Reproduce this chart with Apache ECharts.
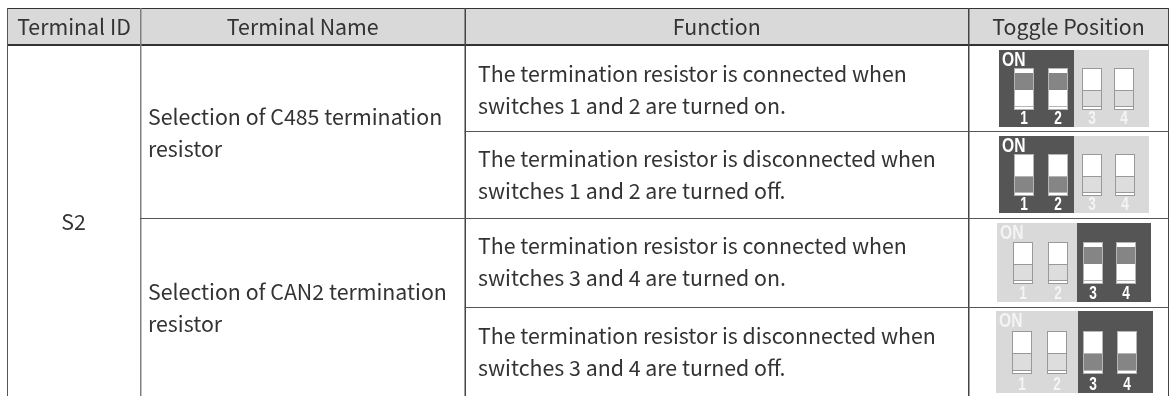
<!DOCTYPE html>
<html>
<head>
<meta charset="utf-8">
<style>
  html, body { margin: 0; padding: 0; background: #fff; }
  #chart { width: 1169px; height: 396px; }
</style>
<script src="https://cdn.jsdelivr.net/npm/echarts@6/dist/echarts.min.js"></script>
</head>
<body>
<div id="chart"></div>
<script>
// table content
var headers = ['Terminal ID', 'Terminal Name', 'Function', 'Toggle Position']
var terminalId = 'S2'
var terminalNames = [
  ['Selection of C485 termination', 'resistor'],
  ['Selection of CAN2 termination', 'resistor']
]
var functions = [
  ['The termination resistor is connected when', 'switches 1 and 2 are turned on.'],
  ['The termination resistor is disconnected when', 'switches 1 and 2 are turned off.'],
  ['The termination resistor is connected when', 'switches 3 and 4 are turned on.'],
  ['The termination resistor is disconnected when', 'switches 3 and 4 are turned off.']
]
var switchLabels = ['1', '2', '3', '4']
var onLabel = 'ON'
// which switches are in the dark half, and whether they are pushed up
var activeSwitches = [[0, 1], [0, 1], [2, 3], [2, 3]]
var switchesOn = [true, false, true, false]

// layout, in page pixels
var columnEdges = [7, 140, 464.5, 968, 1168]
var columnWidths = [1, 1.5, 1.5, 1.5, 1]
var columnColors = ['#555555', '#808080', '#444444', '#444444', '#444444']
var rowEdges = [44, 131, 218, 307, 396]
var topEdge = 8
var nameCenters = [132.5, 308]
var functionCenters = [89.5, 175, 262, 351.5]
var panels = [
  { x0: 999, split: 1074, x1: 1149, y0: 50, y1: 127, sw: [1015, 1049, 1083, 1115], swW: 18, swTop: 68, swH: 42 },
  { x0: 999, split: 1074, x1: 1149, y0: 136, y1: 213, sw: [1015, 1049, 1083, 1116], swW: 18, swTop: 154, swH: 42 },
  { x0: 997, split: 1077, x1: 1151, y0: 223, y1: 302, sw: [1014, 1049, 1084, 1117], swW: 18, swTop: 242, swH: 42 },
  { x0: 996, split: 1078, x1: 1153, y0: 311, y1: 393, sw: [1013, 1048, 1084, 1118], swW: 18, swTop: 331, swH: 43 }
]

var textFont = '"Noto Sans CJK SC", "Noto Sans", sans-serif'
var narrowFont = '"Liberation Sans", sans-serif'
var textColor = '#333333'
var textSize = 21.33
var lineHeight = 32

function rect(api, x0, y0, x1, y1, style) {
  var a = api.coord([x0, y0])
  var b = api.coord([x1, y1])
  return {
    type: 'rect',
    shape: { x: a[0], y: a[1], width: b[0] - a[0], height: b[1] - a[1] },
    style: style
  }
}

function label(api, x, y, str, align, font, size, color, weight, squeeze) {
  var p = api.coord([x, y])
  return {
    type: 'text',
    x: p[0],
    y: p[1],
    scaleX: squeeze || 1,
    style: {
      text: str,
      fill: color || textColor,
      font: (weight || 'normal') + ' ' + size + 'px ' + font,
      textAlign: align,
      textVerticalAlign: 'middle'
    }
  }
}

function twoLines(api, x, yMid, lines, out) {
  out.push(label(api, x, yMid - lineHeight / 2, lines[0], 'left', textFont, textSize))
  out.push(label(api, x, yMid + lineHeight / 2, lines[1], 'left', textFont, textSize))
}

function renderTable(params, api) {
  var c = []
  // header band
  c.push(rect(api, columnEdges[0], topEdge, columnEdges[4], rowEdges[0], { fill: '#d9d9d9' }))
  // rules
  c.push(rect(api, columnEdges[0], topEdge, columnEdges[4] + 1, topEdge + 1, { fill: '#333333' }))
  c.push(rect(api, columnEdges[0], rowEdges[0], columnEdges[4] + 1, rowEdges[0] + 2, { fill: '#333333' }))
  columnEdges.forEach(function(x, i) {
    c.push(rect(api, x, topEdge, x + columnWidths[i], 396, { fill: columnColors[i] }))
  })
  rowEdges.slice(1, 4).forEach(function(y, i) {
    var x0 = i === 1 ? columnEdges[1] : columnEdges[2]
    c.push(rect(api, x0, y, columnEdges[4] + 1, y + 1, { fill: '#555555' }))
  })
  // header text
  headers.forEach(function(h, i) {
    c.push(label(api, (columnEdges[i] + columnEdges[i + 1]) / 2 + 0.5, 27, h, 'center', textFont, textSize))
  })
  c.push(label(api, (columnEdges[0] + columnEdges[1]) / 2, 222, terminalId, 'center', textFont, textSize))
  terminalNames.forEach(function(lines, i) {
    twoLines(api, columnEdges[1] + 8, nameCenters[i], lines, c)
  })
  functions.forEach(function(lines, i) {
    twoLines(api, 478, functionCenters[i], lines, c)
  })
  return { type: 'group', children: c }
}

function renderToggle(params, api) {
  var i = api.value(0)
  var p = panels[i]
  var active = activeSwitches[i]
  var on = switchesOn[i]
  var c = []
  var darkLeft = active[0] === 0
  c.push(rect(api, p.x0, p.y0, p.split, p.y1, { fill: darkLeft ? '#555555' : '#d9d9d9' }))
  c.push(rect(api, p.split, p.y0, p.x1, p.y1, { fill: darkLeft ? '#d9d9d9' : '#555555' }))
  c.push(label(api, p.x0 + 3, p.y0 + 10, onLabel, 'left', narrowFont, 20, darkLeft ? '#ffffff' : '#f4f4f4', 'bold', 0.78))
  p.sw.forEach(function(x, k) {
    var isActive = active.indexOf(k) >= 0
    var t = p.swTop
    var h = p.swH
    var x1 = x + p.swW
    var block = isActive ? '#858585' : '#dddddd'
    var outline = isActive ? '#b5b5b5' : '#999999'
    c.push(rect(api, x - 1, t, x1 + 1, t + h, { fill: outline }))
    c.push(rect(api, x, t + 1, x1, t + h - 1, { fill: '#ffffff' }))
    if (on && isActive) {
      c.push(rect(api, x, t + 5, x1, t + 22, { fill: block }))
    } else {
      c.push(rect(api, x, t + 22, x1, t + h - 4, { fill: block }))
      c.push(rect(api, x, t + 22, x1, t + 23, { fill: outline }))
    }
    c.push(rect(api, x, t + h - 4, x1, t + h - 3, { fill: outline }))
    c.push(label(api, x + p.swW / 2, p.y1 - 8, switchLabels[k], 'center', narrowFont, 19,
      isActive ? '#ffffff' : '#f4f4f4', 'bold', 0.72))
  })
  return { type: 'group', children: c }
}

var chart = echarts.init(document.getElementById('chart'))
chart.setOption({
  animation: false,
  backgroundColor: '#ffffff',
  grid: { left: 0, right: 0, top: 0, bottom: 0 },
  xAxis: { type: 'value', min: 0, max: 1169, show: false },
  yAxis: { type: 'value', min: 0, max: 396, inverse: true, show: false },
  series: [
    { type: 'custom', silent: true, clip: false, renderItem: renderTable, data: [[0]] },
    { type: 'custom', silent: true, clip: false, renderItem: renderToggle, data: functions.map(function(f, i) { return [i] }) }
  ]
})
</script>
</body>
</html>
